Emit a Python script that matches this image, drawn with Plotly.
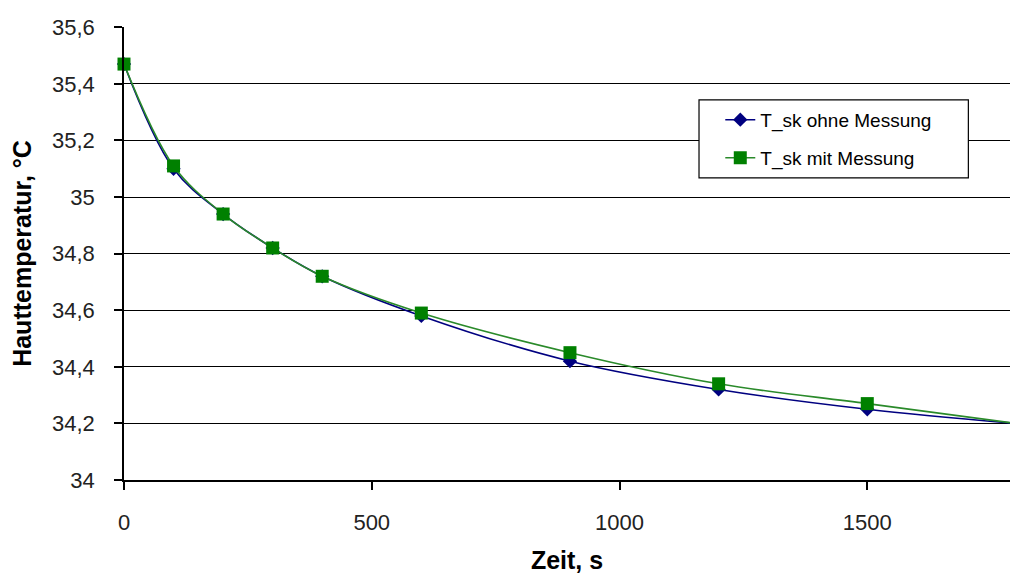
import plotly.graph_objects as go

# Messzeitpunkte in Sekunden
zeit = [0, 100, 200, 300, 400, 600, 900, 1200, 1500, 1800]

# Hauttemperatur in °C
t_sk_ohne = [35.47, 35.10, 34.94, 34.82, 34.72, 34.58, 34.42, 34.32, 34.25, 34.20]
t_sk_mit = [35.47, 35.11, 34.94, 34.82, 34.72, 34.59, 34.45, 34.34, 34.27, 34.20]

y_ticks = [34.0, 34.2, 34.4, 34.6, 34.8, 35.0, 35.2, 35.4, 35.6]
y_tick_text = ["34", "34,2", "34,4", "34,6", "34,8", "35", "35,2", "35,4", "35,6"]
x_ticks = [0, 500, 1000, 1500]
x_tick_text = ["0", "500", "1000", "1500"]

FONT = "Liberation Sans, Arial, sans-serif"

fig = go.Figure()

fig.add_trace(go.Scatter(
    x=zeit, y=t_sk_ohne, name="T_sk ohne Messung",
    mode="lines+markers", line=dict(color="#000080", width=1.6, shape="spline"),
    marker=dict(symbol="diamond", size=11, color="#000080"),
    cliponaxis=False, legend="legend",
))
fig.add_trace(go.Scatter(
    x=zeit, y=t_sk_mit, name="T_sk mit Messung",
    mode="lines+markers", line=dict(color="#2a8a2a", width=1.6, shape="spline"),
    marker=dict(symbol="square", size=13, color="#008000"),
    cliponaxis=False, legend="legend2",
))

# weißer Legendenrahmen über den Gitterlinien
fig.add_shape(type="rect", xref="paper", yref="paper",
              x0=0.649, x1=0.953, y0=0.667, y1=0.839,
              line=dict(color="black", width=1.2), fillcolor="white", layer="above")

legend_style = dict(bgcolor="rgba(0,0,0,0)", borderwidth=0,
                    font=dict(family=FONT, size=19, color="black"),
                    xanchor="left", yanchor="middle", x=0.673)

fig.update_layout(
    width=1010, height=574,
    margin=dict(l=124, r=0, t=27, b=94),
    paper_bgcolor="white", plot_bgcolor="white",
    font=dict(family=FONT, color="black"),
    showlegend=True,
    legend=dict(y=0.795, **legend_style),
    legend2=dict(y=0.711, **legend_style),
    xaxis=dict(
        range=[0, 1788], tickvals=x_ticks, ticktext=x_tick_text,
        showgrid=False, zeroline=False,
        showline=True, linecolor="black", linewidth=1.5,
        ticks="outside", ticklen=8, tickcolor="black", tickwidth=1.5,
        ticklabelstandoff=14,
        tickfont=dict(family=FONT, size=22, color="#222222"),
        title=dict(text="<b>Zeit, s</b>", font=dict(family=FONT, size=25, color="black"),
                   standoff=17),
    ),
    yaxis=dict(
        range=[34, 35.601], tickvals=y_ticks, ticktext=y_tick_text,
        showgrid=True, gridcolor="black", gridwidth=1.2, zeroline=False,
        showline=True, linecolor="black", linewidth=1.5,
        ticks="outside", ticklen=8, tickcolor="black", tickwidth=1.5,
        ticklabelstandoff=15,
        tickfont=dict(family=FONT, size=22, color="#222222"),
        title=dict(text="<b>Hauttemperatur, °C</b>", font=dict(family=FONT, size=25, color="black"),
                   standoff=13),
    ),
)

fig.write_html("out.html")
